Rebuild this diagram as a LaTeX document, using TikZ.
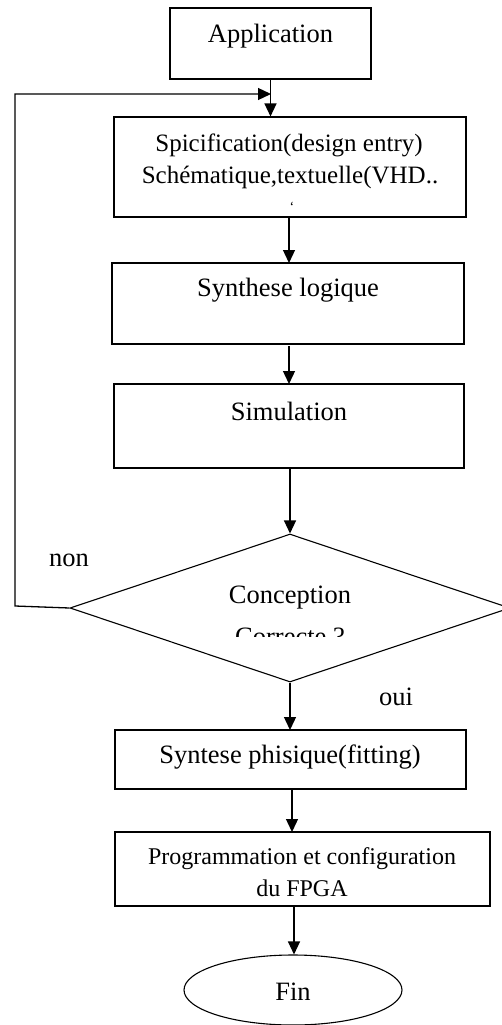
\documentclass[tikz,border=0pt]{standalone}
\usepackage{fontspec}
\setmainfont{Liberation Serif}
\usetikzlibrary{shapes.geometric,arrows.meta}
\begin{document}
\begin{tikzpicture}[x=1pt,y=-1pt,
  box/.style={draw,line width=1.1pt,inner sep=0pt},
  txt/.style={font=\fontsize{26.5}{30}\selectfont,inner sep=0pt,align=center},
  arr/.style={line width=1.3pt,-{Triangle[length=13pt,width=12pt]}},
  line/.style={line width=1.1pt}]
\useasboundingbox (0,0) rectangle (502,1025);
% boxes
\node[box,minimum width=201pt,minimum height=71pt] (app) at (270.5,43.5) {};
\node[txt] (tapp) at (270.5,36) {Application};
\node[box,minimum width=352pt,minimum height=100pt] (spec) at (290,167) {};
\node[txt,font=\fontsize{25}{30}\selectfont] (tspec1) at (289,145) {Spicification(design entry)};
\node[txt,font=\fontsize{25}{30}\selectfont] (tspec2) at (290,177) {Schématique,textuelle(VHD..};
\node[txt,font=\fontsize{14}{16}\selectfont] (tspec3) at (292,207) {`};
\node[box,minimum width=352pt,minimum height=81pt] (syn) at (288,303.5) {};
\node[txt] (tsyn) at (288,290) {Synthese logique};
\node[box,minimum width=350pt,minimum height=84pt] (sim) at (289,426) {};
\node[txt] (tsim) at (289,411) {Simulation};
\node[draw,diamond,line width=1.1pt,minimum width=440pt,minimum height=148pt,inner sep=0pt] (dec) at (290,608) {};
\begin{scope}
\clip (100,570) rectangle (480,636);
\node[txt] (tdec1) at (290,598) {Conception};
\node[txt] (tdec2) at (290,637) {Correcte ?};
\end{scope}
\node[txt] (tnon) at (69,560) {non};
\node[txt] (toui) at (396,697) {oui};
\node[box,minimum width=351pt,minimum height=59pt] (phy) at (290.5,759.5) {};
\node[txt] (tphy) at (290,757) {Syntese phisique(fitting)};
\node[box,minimum width=375pt,minimum height=74pt] (prog) at (302.5,869) {};
\node[txt,font=\fontsize{24}{32}\selectfont] (tprog) at (302,872) {Programmation et configuration\\du FPGA};
\node[draw,ellipse,line width=1.1pt,minimum width=218pt,minimum height=70pt,inner sep=0pt] (fin) at (293,990) {};
\node[txt] (tfin) at (293,992) {Fin};
% connectors
\coordinate (fb) at (271,94);
\coordinate (fbl) at (15,94);
\coordinate (fbb) at (15,606);
\draw[arr] (app.south) -- (app.south |- spec.north);
\draw[arr] (dec.west) -- (fbb) -- (fbl) -- (fb);
\draw[arr] (289,217) -- (289,263);
\draw[arr] (289,346) -- (289,384);
\draw[arr] (290,468) -- (dec.north);
\draw[arr] (dec.south) -- (290,730);
\draw[arr] (292,789) -- (292,832);
\draw[arr] (294,906) -- (fin.north -| 294,906);
\end{tikzpicture}
\end{document}
